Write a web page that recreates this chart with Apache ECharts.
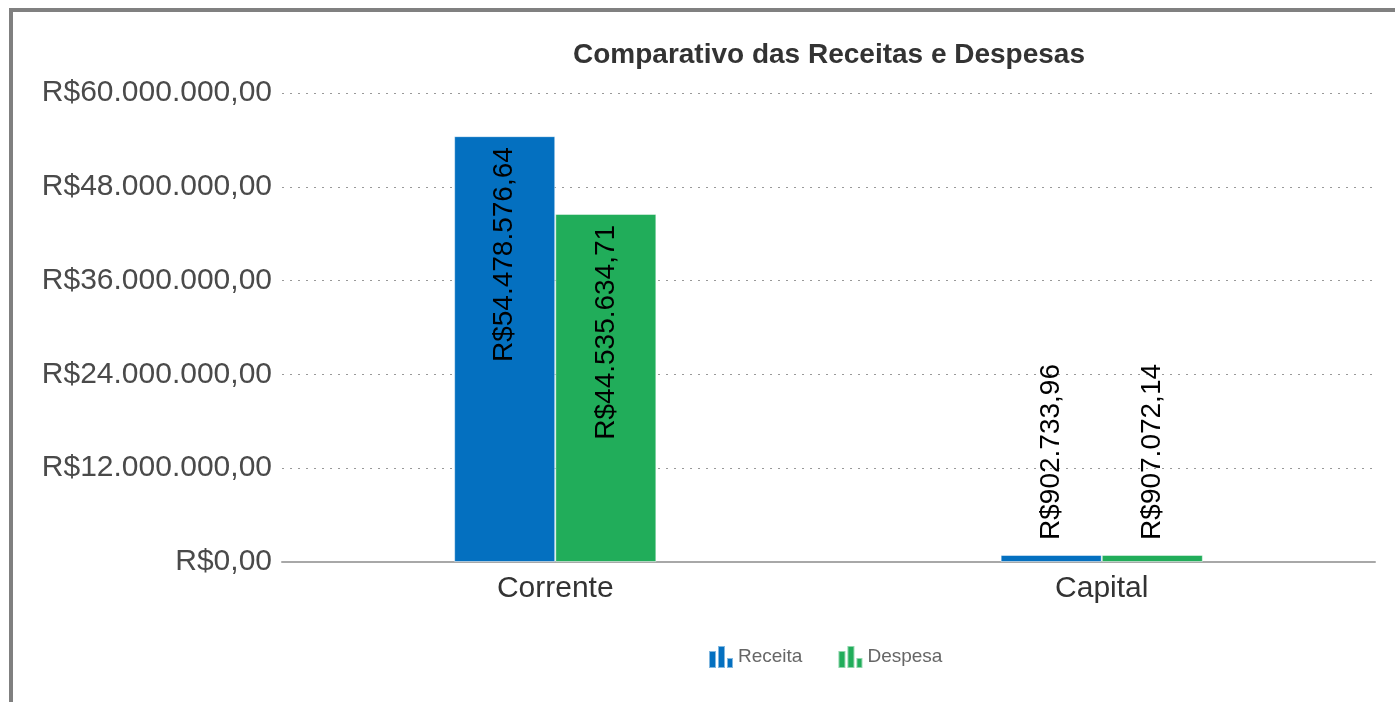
<!DOCTYPE html>
<html>
<head>
<meta charset="utf-8">
<script src="https://cdn.jsdelivr.net/npm/echarts@6/dist/echarts.min.js"></script>
<style>
  html, body { margin: 0; padding: 0; background: #fff; overflow: hidden; }
  #chart { position: absolute; left: 0; top: 0; width: 1395px; height: 702px; }
  .frame {
    position: absolute; left: 9px; top: 8px; width: 1500px; height: 800px;
    border: 4px solid #808080; pointer-events: none;
  }
</style>
</head>
<body>
<div id="chart"></div>
<div class="frame"></div>
<script>
const categories = ['Corrente', 'Capital']
const receita = [54478576.64, 902733.96]
const despesa = [44535634.71, 907072.14]
const yTicks = { min: 0, max: 60000000, interval: 12000000 }

// formato brasileiro: R$1.234.567,89
function brl(v) {
  const parts = Number(v).toFixed(2).split('.')
  const inteiro = parts[0].replace(/\B(?=(\d{3})+(?!\d))/g, '.')
  return 'R$' + inteiro + ',' + parts[1]
}

const FONT = '"Liberation Sans", Arial, sans-serif'
const ICON = 'path://M0,5h7v17h-7z M9,0h7v22h-7z M18,12h6v10h-6z'

// rótulo dentro da barra quando cabe, senão acima
function barData(values) {
  return values.map(v => {
    const inside = v > 20000000
    return {
      value: v,
      label: inside
        ? { position: 'insideTop', align: 'right', distance: 11 }
        : { position: 'top', align: 'left', distance: 15 }
    }
  })
}

const labelStyle = {
  show: true,
  rotate: 90,
  verticalAlign: 'middle',
  color: '#000',
  fontSize: 28,
  fontFamily: FONT,
  formatter: p => brl(p.value)
}

const chart = echarts.init(document.getElementById('chart'))
chart.setOption({
  animation: false,
  title: {
    text: 'Comparativo das Receitas e Despesas',
    left: 824,
    textAlign: 'center',
    top: 36,
    textStyle: { fontSize: 28, fontWeight: 'bold', color: '#333', fontFamily: FONT }
  },
  legend: {
    left: 703,
    top: 640,
    itemWidth: 24,
    itemHeight: 22,
    itemGap: 35,
    textStyle: { fontSize: 19, color: '#666', fontFamily: FONT },
    data: [
      { name: 'Receita', icon: ICON },
      { name: 'Despesa', icon: ICON }
    ]
  },
  grid: { left: 282, right: 20, top: 93, bottom: 140 },
  xAxis: {
    type: 'category',
    data: categories,
    axisTick: { show: false },
    axisLine: { show: true, lineStyle: { color: '#a8a8a8', width: 2 } },
    axisLabel: { color: '#333', fontSize: 30, fontFamily: FONT, margin: 12 }
  },
  yAxis: {
    type: 'value',
    min: yTicks.min,
    max: yTicks.max,
    interval: yTicks.interval,
    axisLine: { show: false },
    axisTick: { show: false },
    splitLine: { show: true, lineStyle: { type: [2, 6], color: '#999', width: 1 } },
    axisLabel: { color: '#4a4a4a', fontSize: 30, fontFamily: FONT, margin: 10, formatter: v => brl(v) }
  },
  series: [
    {
      name: 'Receita',
      type: 'bar',
      barGap: '0%',
      barCategoryGap: '63%',
      data: barData(receita),
      itemStyle: { color: '#0470C0', borderColor: 'rgba(255,255,255,0.5)', borderWidth: 1 },
      label: labelStyle
    },
    {
      name: 'Despesa',
      type: 'bar',
      data: barData(despesa),
      itemStyle: { color: '#21AD5A', borderColor: 'rgba(255,255,255,0.5)', borderWidth: 1 },
      label: labelStyle
    }
  ]
})
window.addEventListener('resize', () => chart.resize())
</script>
</body>
</html>
